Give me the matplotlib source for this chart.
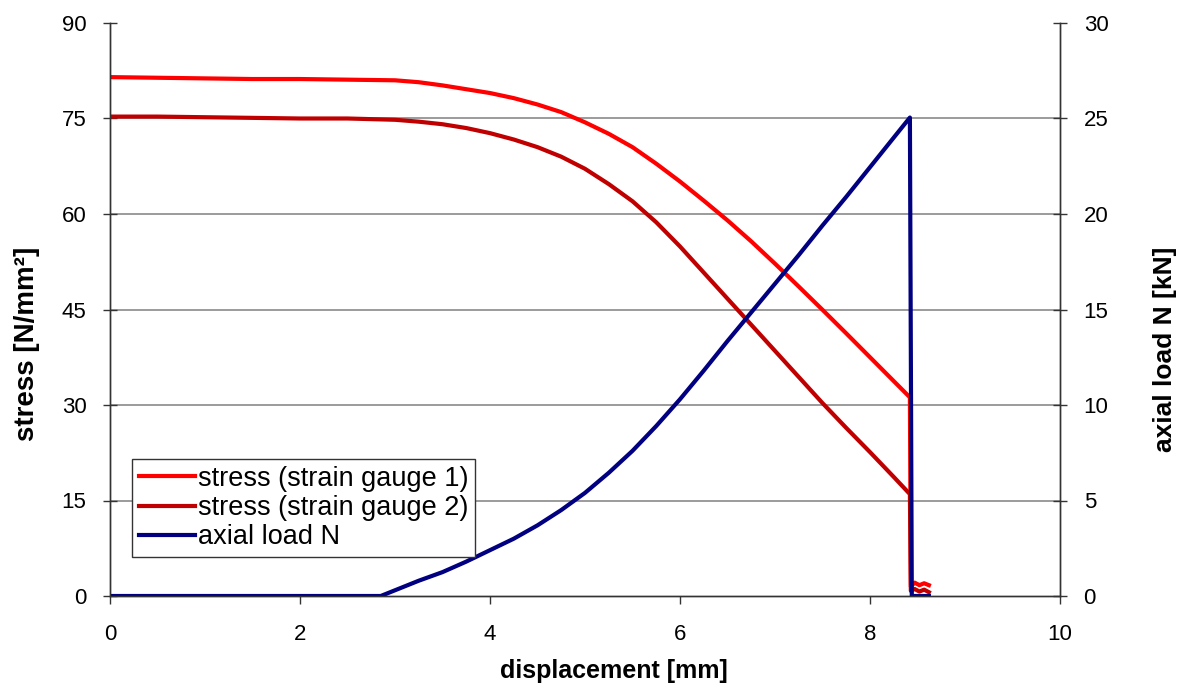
import matplotlib.pyplot as plt

plt.rcParams['font.family'] = ['Liberation Sans', 'DejaVu Sans']

# displacement [mm] and the two strain gauge stresses [N/mm2]
disp_stress = [0, 0.5, 1, 1.5, 2, 2.5, 3, 3.25, 3.5, 3.75, 4, 4.25, 4.5, 4.75,
               5, 5.25, 5.5, 5.75, 6, 6.25, 6.5, 6.75, 7, 7.25, 7.5, 7.75,
               8, 8.25, 8.42, 8.43, 8.47, 8.52, 8.57, 8.62]
stress_g1 = [81.5, 81.4, 81.3, 81.2, 81.2, 81.1, 81.0, 80.7, 80.2, 79.6, 79.0,
             78.2, 77.2, 76.0, 74.4, 72.6, 70.5, 67.9, 65.1, 62.1, 59.0, 55.7,
             52.2, 48.6, 44.95, 41.25, 37.5, 33.75, 31.2, 1.5, 2.1, 1.7, 2.0,
             1.7]
stress_g2 = [75.3, 75.3, 75.2, 75.1, 75.0, 75.0, 74.8, 74.5, 74.1, 73.5, 72.7,
             71.7, 70.5, 69.0, 67.1, 64.7, 62.0, 58.7, 54.9, 50.8, 46.7, 42.6,
             38.5, 34.4, 30.3, 26.4, 22.6, 18.7, 16.0, 0.8, 1.1, 0.7, 1.0, 0.6]

# displacement [mm] and axial load N [kN]
disp_load = [0, 1, 2, 2.85, 3.0, 3.25, 3.5, 3.75, 4, 4.25, 4.5, 4.75, 5, 5.25,
             5.5, 5.75, 6, 6.25, 6.5, 6.75, 7, 7.25, 7.5, 7.75, 8, 8.25, 8.42,
             8.44, 8.62]
load_N = [0, 0, 0, 0, 0.3, 0.8, 1.25, 1.8, 2.4, 3.0, 3.7, 4.5, 5.4, 6.45, 7.6,
          8.9, 10.3, 11.8, 13.35, 14.85, 16.35, 17.85, 19.4, 20.9, 22.45,
          24.0, 25.05, 0, 0]

fig = plt.figure(figsize=(11.89, 6.91), dpi=100)
ax = fig.add_axes([110 / 1189, 95 / 691, 950 / 1189, 573 / 691])
ax2 = ax.twinx()

l1, = ax.plot(disp_stress, stress_g1, color='#ff0000', lw=3.0,
              label='stress (strain gauge 1)')
l2, = ax.plot(disp_stress, stress_g2, color='#c00000', lw=3.0,
              label='stress (strain gauge 2)')
l3, = ax2.plot(disp_load, load_N, color='#000080', lw=3.0,
               label='axial load N')

ax.set_xlim(0, 10)
ax.set_ylim(0, 90)
ax2.set_ylim(0, 30)
ax.set_xticks(range(0, 11, 2))
ax.set_yticks(range(0, 91, 15))
ax2.set_yticks(range(0, 31, 5))

# horizontal grid only, none along the top edge
for y in range(15, 90, 15):
    ax.axhline(y, color='#808080', lw=1.1, zorder=0)

for a in (ax, ax2):
    a.spines['top'].set_visible(False)
    for s in a.spines.values():
        s.set_linewidth(1.0)
        s.set_color('#333333')

ax.tick_params(axis='y', direction='inout', length=10, width=1,
               labelsize=16, pad=12, color='#333333')
ax.tick_params(axis='x', direction='out', length=6, width=1,
               labelsize=16, pad=14, color='#333333')
ax2.tick_params(axis='y', direction='inout', length=10, width=1,
                labelsize=16, pad=12, color='#333333')

ax.set_xlabel('displacement [mm]', fontsize=18, fontweight='bold')
ax.set_ylabel('stress [N/mm²]', fontsize=20, fontweight='bold')
ax2.set_ylabel('axial load N [kN]', fontsize=19, fontweight='bold')
ax.xaxis.set_label_coords(0.53, -0.11)
ax.yaxis.set_label_coords(-0.074, 0.44)
ax2.yaxis.set_label_coords(1.098, 0.43)

leg = ax2.legend(handles=[l1, l2, l3], loc='lower left',
                 bbox_to_anchor=(0.023, 0.068), borderaxespad=0,
                 fontsize=19.5, handlelength=2.1, handletextpad=0.1,
                 labelspacing=0.12, borderpad=0.25, fancybox=False,
                 framealpha=1, edgecolor='#333333')
leg.get_frame().set_linewidth(1.0)

fig.savefig('out.png', dpi=100)
